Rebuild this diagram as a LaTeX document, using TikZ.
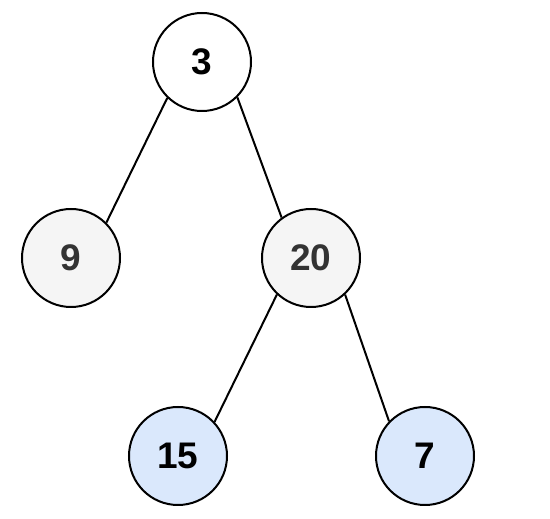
\documentclass[tikz,border=0pt]{standalone}
\usepackage{fontspec}
\setmainfont{Liberation Sans}
\begin{document}
\begin{tikzpicture}[x=1pt,y=1pt,
  tn/.style={circle,draw=black,line width=2pt,minimum size=98pt,inner sep=0pt,font=\fontsize{37}{40}\selectfont\bfseries},
  white/.style={tn,fill=white,text=black},
  gray/.style={tn,fill=black!4,text=black!80},
  blue/.style={tn,fill={rgb,255:red,218;green,232;blue,252},text=black},
  edge/.style={line width=2pt,draw=black}]
\useasboundingbox (0,0) rectangle (550,519);
\node[white] (n3) at (202,457) {3};
\node[gray] (n9) at (71,261) {9};
\node[gray] (n20) at (311,261) {20};
\node[blue] (n15) at (178,63) {15};
\node[blue] (n7) at (425,63) {7};
\draw[edge] (n3.226) -- (n9.45);
\draw[edge] (n3.315) -- (n20.126);
\draw[edge] (n20.227) -- (n15.43);
\draw[edge] (n20.313) -- (n7.136);
\end{tikzpicture}
\end{document}
